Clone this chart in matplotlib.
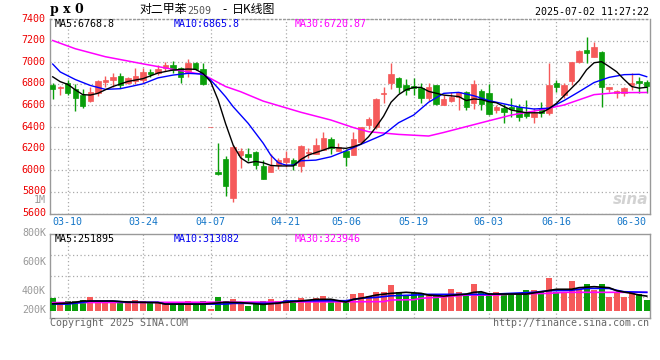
import matplotlib
matplotlib.use('Agg')
import matplotlib.pyplot as plt
import matplotlib.transforms as mtransforms
import numpy as np

# ---------------- data ----------------
OPEN = [6789, 6761, 6804, 6752, 6696, 6640, 6712, 6820, 6835, 6872,
        6804, 6829, 6835, 6912, 6897, 6943, 6974, 6943, 6897, 6995,
        6937, 6397, 5986, 6100, 5745, 6140, 6150, 6171, 6039, 5986,
        6048, 6079, 6094, 6042, 6162, 6150, 6187, 6286, 6181, 6181,
        6140, 6258, 6418, 6403, 6702, 6810, 6850, 6789, 6783, 6764,
        6665, 6789, 6604, 6644, 6681, 6721, 6625, 6733, 6718, 6557,
        6579, 6582, 6588, 6532, 6496, 6573, 6526, 6810, 6696, 6829,
        6999, 7113, 7051, 7091, 6749, 6718, 6712, 6789, 6826, 6820]
HIGH = [6810, 6779, 6835, 6795, 6749, 6767, 6835, 6872, 6903, 6903,
        6866, 6949, 6943, 6934, 6974, 7005, 7011, 6958, 7030, 7005,
        6989, 6397, 6249, 6131, 6233, 6202, 6202, 6181, 6094, 6147,
        6110, 6181, 6110, 6233, 6202, 6301, 6357, 6310, 6249, 6193,
        6357, 6403, 6489, 6665, 6767, 6996, 6866, 6841, 6850, 6804,
        6804, 6789, 6696, 6727, 6721, 6733, 6835, 6749, 6798, 6604,
        6613, 6665, 6613, 6650, 6573, 6634, 6996, 6835, 6810, 7005,
        7113, 7230, 7190, 7107, 6773, 6742, 6767, 6903, 6866, 6835]
LOW = [6659, 6696, 6696, 6551, 6579, 6634, 6690, 6767, 6767, 6758,
       6795, 6795, 6804, 6866, 6881, 6918, 6897, 6810, 6866, 6928,
       6789, 6397, 5955, 5761, 5708, 6023, 6085, 6008, 5918, 5986,
       6008, 6032, 6002, 5986, 6116, 6150, 6187, 6150, 6181, 6039,
       6140, 6258, 6381, 6381, 6619, 6749, 6718, 6696, 6696, 6619,
       6644, 6604, 6604, 6634, 6557, 6557, 6563, 6557, 6511, 6526,
       6440, 6496, 6458, 6480, 6440, 6489, 6511, 6727, 6665, 6789,
       6989, 6996, 7045, 6582, 6727, 6671, 6690, 6742, 6718, 6718]
CLOSE = [6752, 6773, 6718, 6671, 6594, 6724, 6829, 6835, 6866, 6789,
         6857, 6872, 6912, 6894, 6937, 6974, 6928, 6866, 6989, 6937,
         6795, 6397, 5965, 5853, 6218, 6177, 6125, 6048, 5918, 6039,
         6094, 6116, 6048, 6224, 6171, 6233, 6301, 6202, 6218, 6125,
         6286, 6403, 6474, 6656, 6718, 6891, 6767, 6742, 6764, 6671,
         6767, 6613, 6659, 6681, 6721, 6588, 6798, 6613, 6520, 6588,
         6542, 6563, 6496, 6505, 6532, 6532, 6789, 6767, 6789, 7005,
         7107, 7082, 7144, 6767, 6767, 6733, 6758, 6810, 6804, 6783]

# volume, thousands of lots
VOLUME = [352, 313, 329, 329, 336, 359, 329, 329, 329, 329,
          329, 336, 329, 320, 320, 320, 306, 322, 329, 308,
          329, 274, 357, 329, 343, 313, 294, 313, 329, 343,
          329, 336, 336, 352, 336, 352, 363, 336, 329, 329,
          377, 384, 363, 391, 391, 439, 391, 370, 384, 384,
          370, 363, 363, 412, 391, 370, 446, 391, 382, 391,
          370, 370, 384, 405, 405, 398, 488, 393, 389, 467,
          412, 446, 405, 446, 357, 391, 357, 384, 377, 336]

# moving-average lines (candle index, value)
MA5_IDX = [0, 1, 2, 3, 4, 5, 6, 7, 8, 10, 12, 14, 16, 18, 19, 20, 21, 22, 23, 24,
           25, 26, 27, 28, 29, 30, 32, 33, 34, 36, 37, 39, 40, 41, 42, 43, 44, 45,
           46, 47, 48, 49, 50, 52, 54, 55, 56, 57, 58, 59, 61, 63, 65, 66, 67, 68,
           69, 70, 71, 72, 73, 74, 75, 76, 77, 78, 79]
MA5_VAL = [6865, 6820, 6795, 6745, 6700, 6696, 6712, 6745, 6775, 6822, 6848, 6900,
           6928, 6937, 6934, 6895, 6820, 6650, 6430, 6233, 6115, 6069, 6082, 6070,
           6045, 6040, 6040, 6100, 6141, 6187, 6212, 6203, 6218, 6243, 6310, 6400,
           6500, 6630, 6700, 6745, 6767, 6767, 6730, 6696, 6682, 6645, 6660, 6655,
           6634, 6625, 6557, 6532, 6532, 6570, 6620, 6690, 6760, 6830, 6930, 6995,
           7005, 6960, 6912, 6840, 6775, 6760, 6768]
MA10_IDX = [0, 1, 3, 5, 7, 9, 12, 14, 16, 18, 20, 21, 22, 23, 24, 26, 28, 29, 30,
            31, 32, 33, 35, 37, 39, 41, 43, 44, 46, 48, 50, 52, 54, 56, 58, 60, 62,
            64, 66, 68, 70, 72, 74, 76, 78, 79]
MA10_VAL = [6983, 6910, 6840, 6785, 6749, 6755, 6800, 6855, 6881, 6897, 6890, 6835,
            6760, 6680, 6588, 6434, 6250, 6140, 6070, 6048, 6048, 6088, 6094, 6125,
            6180, 6240, 6300, 6330, 6440, 6511, 6630, 6712, 6721, 6690, 6645, 6615,
            6585, 6567, 6575, 6645, 6727, 6812, 6860, 6885, 6888, 6866]
MA30_IDX = [0, 3, 7, 12, 16, 20, 23, 25, 28, 33, 37, 40, 42, 46, 50, 52, 57, 61,
            65, 68, 72, 75, 79]
MA30_VAL = [7201, 7125, 7051, 6985, 6934, 6886, 6775, 6727, 6640, 6537, 6465, 6395,
            6357, 6332, 6317, 6350, 6440, 6511, 6560, 6604, 6700, 6718, 6720]

VMA5_IDX = [0, 2, 3, 4, 8, 10, 14, 15, 20, 23, 25, 28, 30, 33, 35, 37, 39, 40, 41,
            43, 45, 47, 49, 50, 52, 55, 56, 57, 58, 63, 65, 67, 69, 70, 72, 74, 75,
            77, 78, 79]
VMA5_VAL = [310, 315, 320, 329, 329, 322, 318, 308, 308, 320, 318, 306, 315, 330,
            340, 341, 322, 341, 348, 370, 382, 389, 382, 370, 363, 377, 389, 393,
            377, 377, 393, 410, 410, 421, 428, 421, 400, 382, 370, 363]
VMA10_IDX = [0, 2, 4, 5, 8, 10, 14, 15, 23, 24, 30, 31, 37, 39, 41, 43, 45, 48, 50,
             58, 61, 64, 66, 69, 71, 74, 75, 76, 79]
VMA10_VAL = [308, 308, 320, 329, 329, 320, 320, 308, 308, 313, 313, 329, 331, 331,
             348, 354, 365, 370, 375, 375, 382, 389, 400, 403, 416, 416, 403, 393, 389]
VMA30_IDX = [0, 37, 44, 45, 48, 49, 51, 55, 59, 61, 66, 68, 79]
VMA30_VAL = [318, 323, 325, 336, 338, 348, 354, 370, 370, 377, 382, 389, 389]

TICK_IDX = [2, 12, 21, 31, 39, 48, 58, 67, 77]
TICK_LABELS = ['03-10', '03-24', '04-07', '04-21', '05-06', '05-19', '06-03', '06-16', '06-30']
PRICE_TICKS = [5600, 5800, 6000, 6200, 6400, 6600, 6800, 7000, 7200, 7400]
VOL_TICKS = [800, 600, 400, 200]
VOL_TICK_LABELS = ['800K', '600K', '400K', '200K']

TITLE_SYMBOL = 'p x 0'
TITLE_NAME = '对二甲苯'
TITLE_CODE = '2509'
TITLE_KIND = '日K线图'
TIMESTAMP = '2025-07-02 11:27:22'
PRICE_LEGEND = [('MA5:6768.8', 'black'), ('MA10:6865.8', '#0000ee'), ('MA30:6720.87', '#ff00ff')]
VOL_LEGEND = [('MA5:251895', 'black'), ('MA10:313082', '#0000ee'), ('MA30:323946', '#ff00ff')]

# ---------------- style ----------------
RED = '#f55a5a'
GREEN = '#0a9e0a'
GRID = '#aaaaaa'
SPINE = '#999999'
MONO = ['DejaVu Sans Mono']
CJK = ['Noto Sans CJK SC', 'DejaVu Sans']
plt.rcParams['font.family'] = MONO

W, H = 660, 360
fig = plt.figure(figsize=(W / 100, H / 100), dpi=100)


def px_rect(l, t, r, b):
    return [l / W, 1 - b / H, (r - l) / W, (b - t) / H]


def ftext(x, y, s, **kw):
    fig.text(x / W, 1 - y / H, s, **kw)


axp = fig.add_axes(px_rect(50, 19, 649.5, 213.5))
axv = fig.add_axes(px_rect(50, 234.3, 649.5, 318))

x = np.arange(len(CLOSE))
o = np.array(OPEN, float)
h = np.array(HIGH, float)
l = np.array(LOW, float)
c = np.array(CLOSE, float)
cols = np.where(c >= o, RED, GREEN)

XLIM = (-0.36, 79.37)
dots = (0, (1, 2))

# ---- price panel ----
axp.vlines(x, l, h, colors=cols, lw=1, zorder=3)
axp.bar(x, c - o, bottom=o, width=0.72, color=cols, edgecolor=cols, linewidth=0.5, zorder=4)
axp.plot(MA30_IDX, MA30_VAL, color='#ff00ff', lw=1.1, zorder=5)
axp.plot(MA10_IDX, MA10_VAL, color='#0000ff', lw=1.0, zorder=5)
axp.plot(MA5_IDX, MA5_VAL, color='black', lw=1.0, zorder=6)
axp.set_xlim(*XLIM)
axp.set_ylim(5600, 7400)
axp.set_yticks(PRICE_TICKS)
axp.set_yticklabels([str(v) for v in PRICE_TICKS])
axp.set_xticks(TICK_IDX)
axp.set_xticklabels(TICK_LABELS)
axp.tick_params(axis='y', length=0, pad=3, labelsize=7.2, labelcolor='#ee0000')
axp.tick_params(axis='x', length=0, pad=2.5, labelsize=7.2, labelcolor='#1476c8')
off = mtransforms.ScaledTranslation(0, 1.5 / 100, fig.dpi_scale_trans)
for lab in axp.get_yticklabels():
    lab.set_transform(lab.get_transform() + off)
axp.grid(True, color=GRID, lw=0.9, linestyle=dots)
axp.xaxis.get_gridlines()[-1].set_visible(False)

# ---- volume panel ----
VOL_BASE = 260
VLIM = (212, 789)
axv.bar(x, np.array(VOLUME) - VOL_BASE, bottom=VOL_BASE, width=0.8, color=cols, zorder=3)
axv.plot(VMA30_IDX, VMA30_VAL, color='#ff00ff', lw=1.2, zorder=5)
axv.plot(VMA10_IDX, VMA10_VAL, color='#0000ff', lw=1.2, zorder=5)
axv.plot(VMA5_IDX, VMA5_VAL, color='black', lw=1.2, zorder=6)
axv.set_xlim(*XLIM)
axv.set_ylim(*VLIM)
axv.set_xticks(TICK_IDX)
axv.set_xticklabels([])
axv.set_yticks(np.linspace(VLIM[0], VLIM[1], 5)[1:-1])
axv.set_yticklabels([])
axv.tick_params(length=0)
axv.grid(True, color=GRID, lw=0.9, linestyle=dots)
axv.xaxis.get_gridlines()[-1].set_visible(False)
ytr = mtransforms.blended_transform_factory(axv.transAxes, axv.transData)
for v, lab in zip(VOL_TICKS, VOL_TICK_LABELS):
    yv = min(max(v, 267), 814)
    axv.text(-0.0066, yv, lab, transform=ytr, ha='right', va='center',
             fontsize=7.2, color='#999999', clip_on=False)

for ax in (axp, axv):
    for s in ('left', 'bottom', 'right'):
        ax.spines[s].set_color(SPINE)
        ax.spines[s].set_linewidth(1.0)
    ax.spines['top'].set_color(SPINE)
    ax.spines['top'].set_linewidth(1.0)
axp.spines['top'].set_linestyle(dots)

# ---- texts ----
ftext(50, 10, TITLE_SYMBOL, fontsize=9, fontweight='bold', va='center', ha='left',
      family=['DejaVu Serif'])
ftext(139, 10, TITLE_NAME, fontsize=8.6, va='center', ha='left', family=CJK)
ftext(187.5, 11, TITLE_CODE, fontsize=7.2, va='center', ha='left', color='#555555')
ftext(222, 10, '-', fontsize=8.6, va='center', ha='left', family=CJK)
ftext(232, 10, TITLE_KIND, fontsize=8.6, va='center', ha='left', family=CJK)
ftext(649, 12, TIMESTAMP, fontsize=7.2, va='center', ha='right')

for (s, col), xp in zip(PRICE_LEGEND, (55, 174, 295)):
    ftext(xp, 24, s, fontsize=7.2, color=col, va='center', ha='left')
for (s, col), xp in zip(VOL_LEGEND, (55, 174, 295)):
    ftext(xp, 238.5, s, fontsize=7.2, color=col, va='center', ha='left')

ftext(46, 200, '1M', fontsize=7.2, color='#999999', va='center', ha='right')
ftext(50, 323.5, 'Copyright 2025 SINA.COM', fontsize=7.2, color='#666666', va='center', ha='left')
ftext(649, 323.5, 'http://finance.sina.com.cn', fontsize=7.2, color='#666666', va='center', ha='right')
ftext(648, 199, 'sina', fontsize=11, color='#d2d2d2', va='center', ha='right',
      fontweight='bold', fontstyle='italic', family=['DejaVu Sans'])

fig.savefig('out.png', dpi=100)
